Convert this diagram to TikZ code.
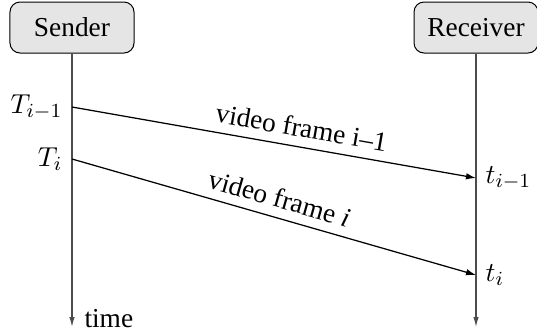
\documentclass[tikz,border=0pt,11pt]{standalone}
\usepackage{fontspec}
\setmainfont{Liberation Serif}
\usetikzlibrary{arrows.meta,positioning}

\tikzset{
  party/.style={draw,rounded corners=4pt,fill=gray!20,
    minimum width=49.6pt,minimum height=20.4pt,inner sep=2pt},
  lifeline/.style={draw=black!70,line width=0.5pt,-{Latex[length=4pt,width=2.2pt]}},
  msg/.style={line width=0.5pt,-{Latex[length=4pt,width=2.6pt]}}
}

\begin{document}
\begin{tikzpicture}[x=0.4pt,y=-0.4pt]
\useasboundingbox (0,0) rectangle (537,335);

% the two parties
\node[party] (snd) at (72,27.5) {Sender};
\node[party] (rcv) at (476,27.5) {Receiver};

% time runs downwards
\coordinate (sndend) at (72,327);
\coordinate (rcvend) at (476,327);
\draw[lifeline] (snd.south) -- (sndend);
\draw[lifeline] (rcv.south) -- (rcvend);
\node[anchor=base west,inner sep=0pt] (time) at (84,327) {time};

% send and arrival instants
\coordinate (s1) at (72,107);
\coordinate (s2) at (72,159);
\coordinate (r1) at (476,178);
\coordinate (r2) at (476,275);
\node[left] (Tprev) at (s1) {$T_{i-1}$};
\node[left] (Tcur) at (s2) {$T_i$};
\node[right] (tprev) at (r1) {$t_{i-1}$};
\node[right] (tcur) at (r2) {$t_i$};

% the frames
\draw[msg] (s1) -- node[above,sloped,pos=0.56] {video frame i--1} (r1);
\draw[msg] (s2) -- node[above,sloped,pos=0.5] {video frame \textit{i}} (r2);
\end{tikzpicture}
\end{document}
